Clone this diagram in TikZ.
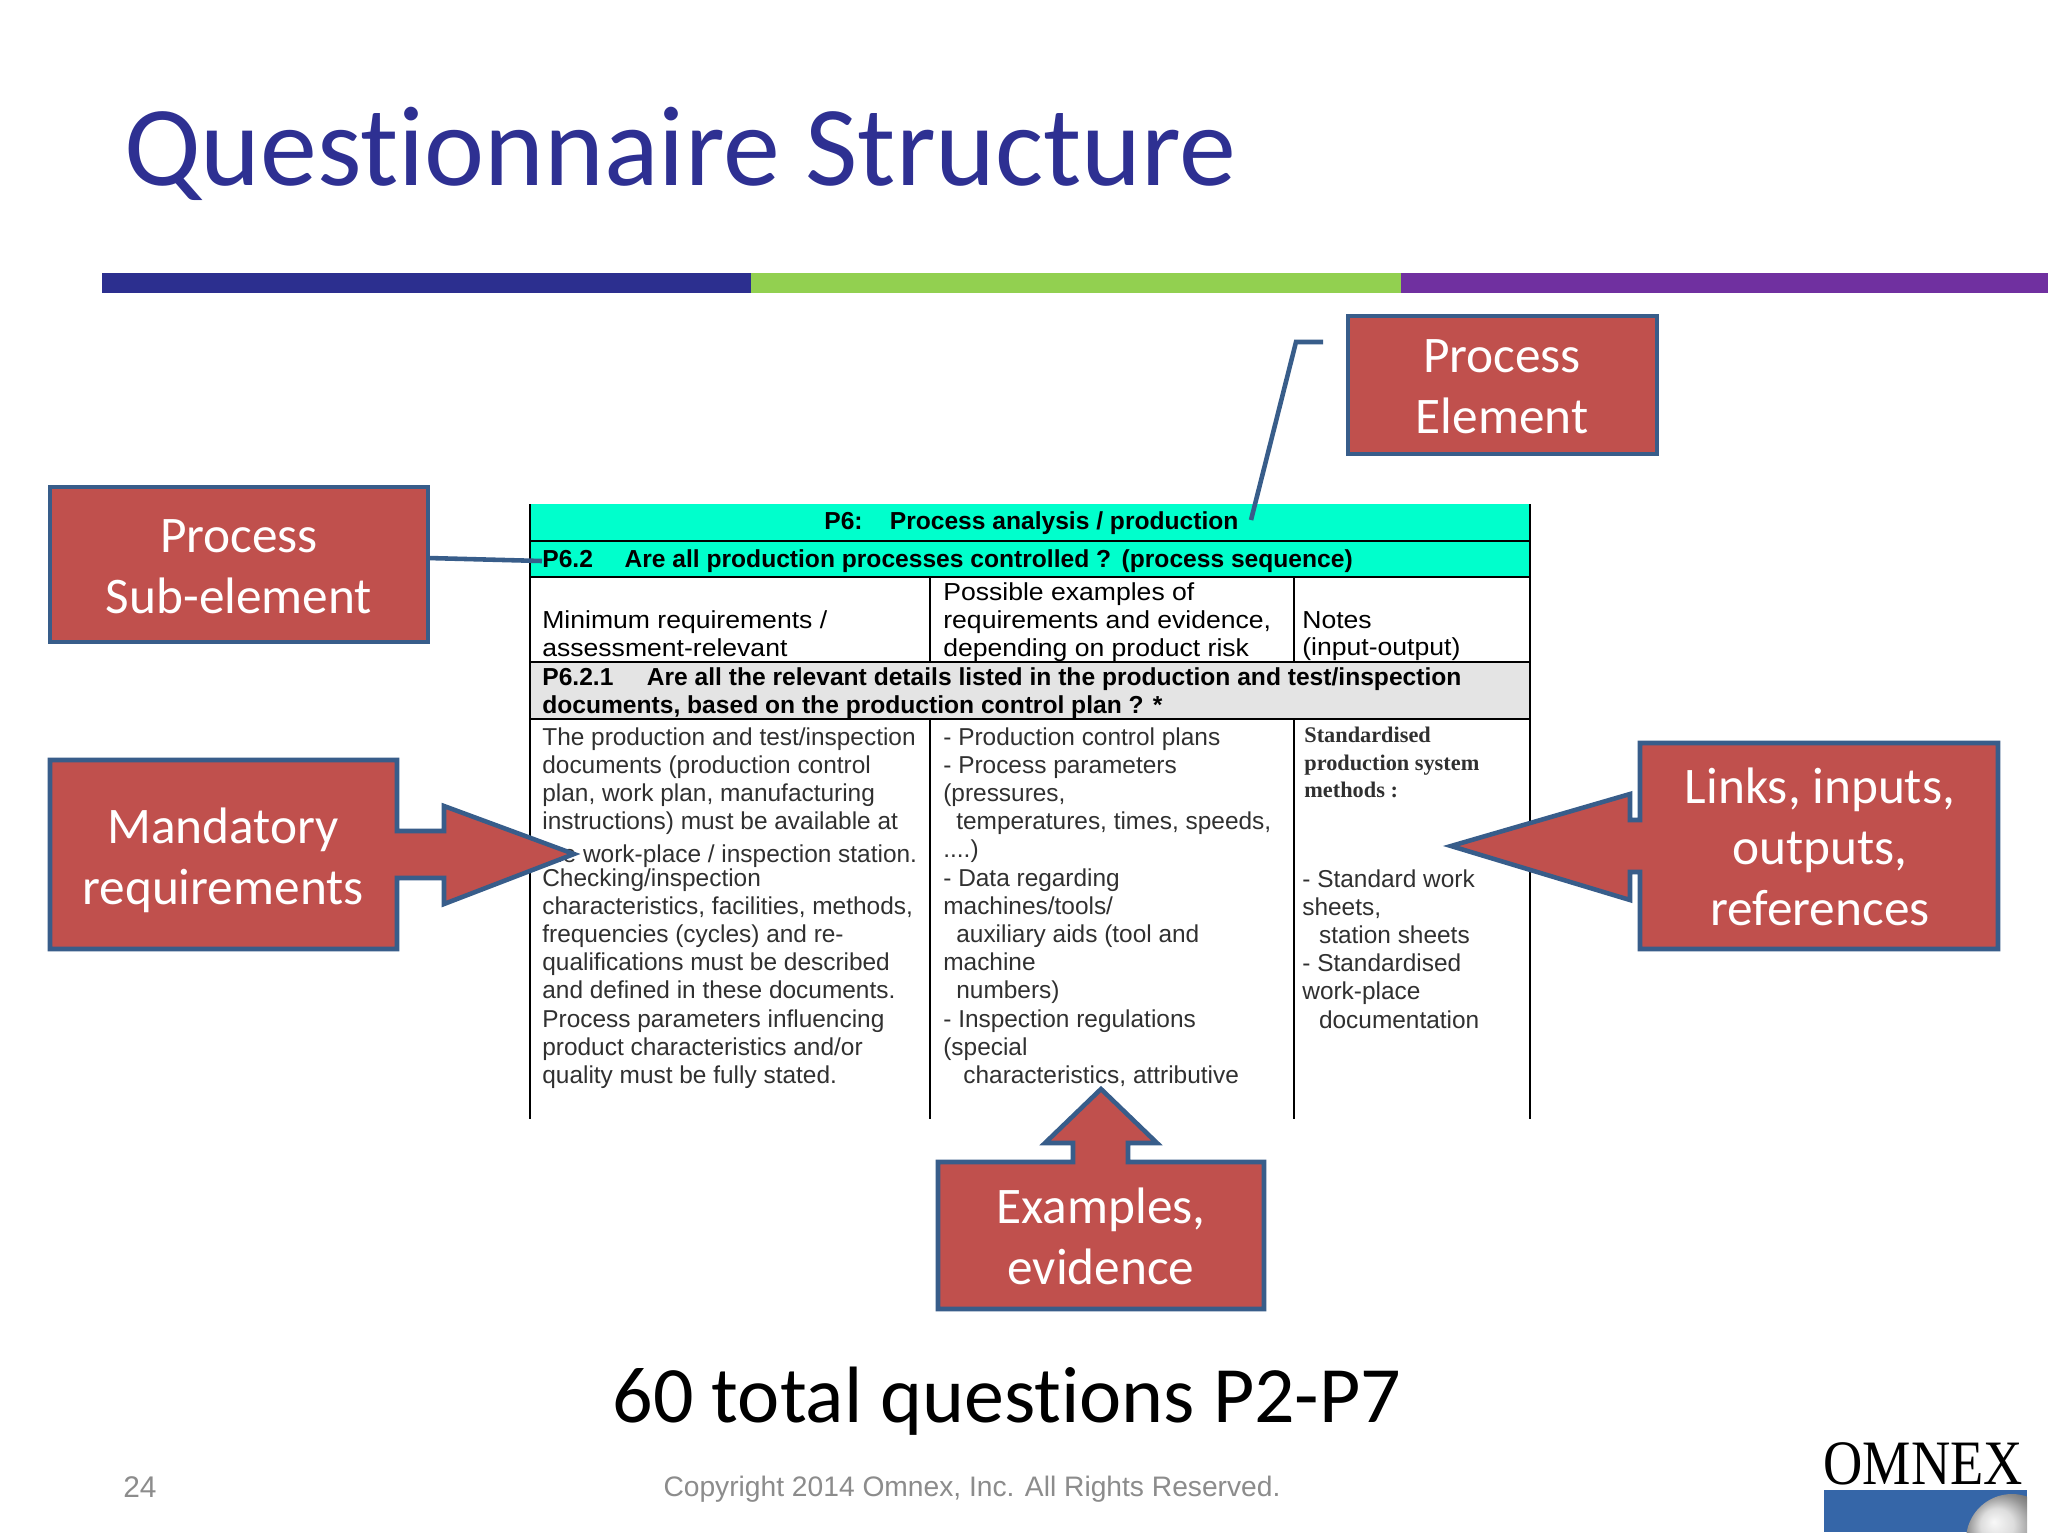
\documentclass[tikz,border=0pt]{standalone}
\usepackage{fontspec}
\setmainfont{Liberation Sans}
\newfontfamily\carl[Ligatures=NoCommon]{Carlito}
\newfontfamily\serifb{Liberation Serif}
\newfontfamily\serifn[FakeStretch=0.86]{Liberation Serif}
\newfontfamily\headf[FakeStretch=1.08]{Liberation Sans}
\definecolor{titleblue}{HTML}{2E3092}
\definecolor{barblue}{HTML}{2C2F8F}
\definecolor{bargreen}{HTML}{92D050}
\definecolor{barpurple}{HTML}{7030A0}
\definecolor{boxred}{HTML}{C0504D}
\definecolor{boxedge}{HTML}{385D8A}
\definecolor{cyanrow}{HTML}{00FFCC}
\definecolor{grayrow}{HTML}{E4E4E4}
\definecolor{bodytext}{HTML}{303030}
\definecolor{foot}{HTML}{8C8C8C}
\definecolor{logoblue}{HTML}{3566A8}
\tikzset{
  x=0.02cm,y=-0.02cm,
  callout/.style={fill=boxred,draw=boxedge,line width=2.6pt,line join=miter},
  boxlabel/.style={text=white,align=center,inner sep=0pt,font=\carl\fontsize{29.2}{34.8}\selectfont},
  leader/.style={draw=boxedge,line width=2.6pt},
  rule/.style={draw=black,line width=1.2pt},
  cell/.style={anchor=north west,inner sep=0pt,align=left,text=bodytext,font=\fontsize{13.9}{16.05}\selectfont},
  headcell/.style={anchor=west,inner sep=0pt,align=left,text=black,font=\headf\fontsize{14}{15.8}\selectfont},
  boldrow/.style={anchor=west,inner sep=0pt,align=left,text=black,font=\bfseries\fontsize{14}{15.8}\selectfont},
}
\begin{document}
\begin{tikzpicture}
\useasboundingbox (0,0) rectangle (2048,1536);
\fill[white] (0,0) rectangle (2048,1536);

% title and bars
\node[anchor=base west,inner sep=0pt,text=titleblue,font=\carl\fontsize{64.8}{76}\selectfont] (title) at (124,185) {Questionnaire Structure};
\fill[barblue] (102,273) rectangle (751,293);
\fill[bargreen] (751,273) rectangle (1401,293);
\fill[barpurple] (1401,273) rectangle (2048,293);

% table
\fill[cyanrow] (530,504) rectangle (1530,577);
\fill[grayrow] (530,662) rectangle (1530,719);
\draw[rule] (530,504) -- (530,1119);
\draw[rule] (1530,504) -- (1530,1119);
\draw[rule] (930,577) -- (930,662);
\draw[rule] (930,719) -- (930,1119);
\draw[rule] (1294,577) -- (1294,662);
\draw[rule] (1294,719) -- (1294,1119);
\draw[rule] (530,541) -- (1530,541);
\draw[rule] (530,577) -- (1530,577);
\draw[rule] (530,662) -- (1530,662);
\draw[rule] (530,719) -- (1530,719);

\node[boldrow] (p6) at (824,523) {P6:\hspace{15.5pt}Process analysis / production};
\node[boldrow] (p62) at (542,561) {P6.2\hspace{18pt}Are all production processes controlled ?\hspace{6pt}(process sequence)};
\node[headcell] (h1) at (542,634) {Minimum requirements /\\assessment-relevant};
\node[headcell] (h2) at (943,622) {Possible examples of\\requirements and evidence,\\depending on product risk};
\node[headcell] (h3) at (1302,636) {Notes\\(input-output)};
\node[boldrow] (p621) at (542,693) {P6.2.1\hspace{19pt}Are all the relevant details listed in the production and test/inspection\\documents, based on the production control plan ? *};

\node[cell] (c1) at (542,725) {\strut The production and test/inspection\\
documents (production control\\
plan, work plan, manufacturing\\
instructions) must be available at\\
\raisebox{-2.5pt}{the work-place / inspection station.}\\
Checking/inspection\\
characteristics, facilities, methods,\\
frequencies (cycles) and re-\\
qualifications must be described\\
and defined in these documents.\\
Process parameters influencing\\
product characteristics and/or\\
quality must be fully stated.};
\node[cell] (c2) at (943,725) {\strut - Production control plans\\
- Process parameters\\
(pressures,\\
\hspace*{7.4pt}temperatures, times, speeds,\\
....)\\
- Data regarding\\
machines/tools/\\
\hspace*{7.4pt}auxiliary aids (tool and\\
machine\\
\hspace*{7.4pt}numbers)\\
- Inspection regulations\\
(special\\
\hspace*{11.4pt}characteristics, attributive};
\node[cell,font=\serifb\bfseries\fontsize{12.7}{15.7}\selectfont] (c3a) at (1304,723) {\strut Standardised\\production system\\methods :};
\node[cell] (c3b) at (1302,867) {\strut - Standard work\\
sheets,\\
\hspace*{9.5pt}station sheets\\
- Standardised\\
work-place\\
\hspace*{9.5pt}documentation};

% callouts
\draw[callout] (1348,316) rectangle (1657,454);
\node[boxlabel] (pe) at (1502,387) {Process\\Element};
\draw[callout] (50,487) rectangle (428,642);
\node[boxlabel] (se) at (239,567) {Process\\Sub-element};
\draw[callout] (50,760) -- (397,760) -- (397,831) -- (444,831) -- (444,806) -- (574,854) -- (444,904) -- (444,878) -- (397,878) -- (397,949) -- (50,949) -- cycle;
\node[boxlabel] (mr) at (223,860) {Mandatory\\requirements};
\draw[callout] (1640,743) -- (1998,743) -- (1998,949) -- (1640,949) -- (1640,872) -- (1630,872) -- (1630,900) -- (1451,846) -- (1630,794) -- (1630,820) -- (1640,820) -- cycle;
\node[boxlabel] (li) at (1820,847) {Links, inputs,\\outputs,\\references};
\draw[callout] (938,1162) -- (1073,1162) -- (1073,1143) -- (1045,1143) -- (1101,1089) -- (1157,1143) -- (1128,1143) -- (1128,1162) -- (1264,1162) -- (1264,1309) -- (938,1309) -- cycle;
\node[boxlabel] (ex) at (1101,1236) {Examples,\\evidence};

% leaders
\coordinate (peA) at (1323,342);
\coordinate (peB) at (1296,342);
\coordinate (peC) at (1251,520);
\coordinate (seA) at (428,558);
\coordinate (seB) at (542,561);
\draw[leader] (peA) -- (peB) -- (peC);
\draw[leader] (seA) -- (seB);

% footer
\node[anchor=base,inner sep=0pt,text=black,font=\carl\fontsize{45.5}{54}\selectfont] (tot) at (1007,1422) {60 total questions P2-P7};
\node[anchor=west,inner sep=0pt,text=foot,font=\fontsize{17}{20}\selectfont] (pg) at (123,1487) {24};
\node[inner sep=0pt,text=foot,font=\fontsize{16.05}{20}\selectfont] (copy) at (972,1489) {Copyright 2014 Omnex, Inc. All Rights Reserved.};

% logo
\node[anchor=base west,inner sep=0pt,text=black,font=\serifn\fontsize{36}{40}\selectfont] (omnex) at (1823,1484) {OMNEX};
\fill[logoblue] (1824,1490) rectangle (2027,1532);
\begin{scope}
\clip (1824,1490) rectangle (2027,1532);
\shade[ball color=black!18] (2012,1540) circle (46);
\end{scope}
\end{tikzpicture}
\end{document}
